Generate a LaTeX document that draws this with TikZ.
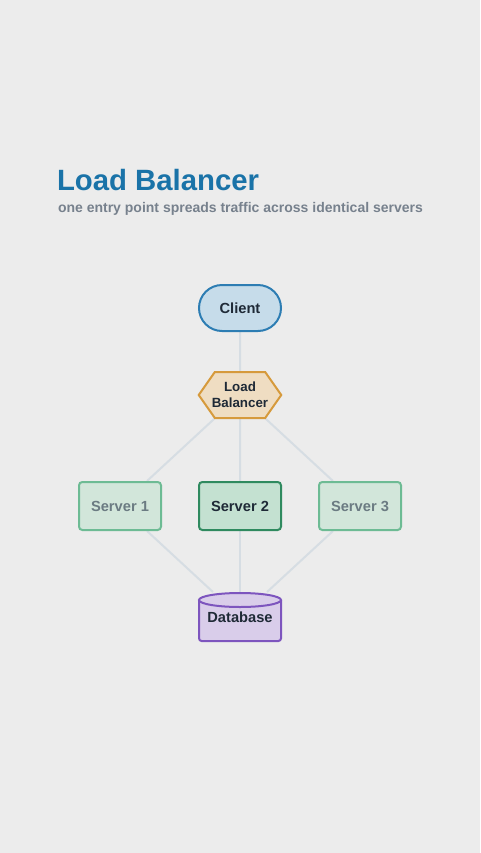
\documentclass[tikz,border=0pt]{standalone}
\usepackage{fontspec}
\setmainfont{Liberation Sans}
\usepackage{tikz}
\usetikzlibrary{arrows.meta,calc,positioning,shapes.geometric,shapes.misc,shapes.symbols}
\pgfdeclarelayer{paper}
\pgfdeclarelayer{edges}
\pgfsetlayers{paper,edges,main}
\definecolor{PaperBg}{HTML}{ECECEC}
\definecolor{TitleBlue}{HTML}{1A73A8}
\definecolor{Muted}{HTML}{77818D}
\definecolor{Ink}{HTML}{1F2A37}
\definecolor{EdgeGrey}{HTML}{D6DDE3}
\definecolor{ClientFill}{HTML}{C6DCEA}
\definecolor{ClientLine}{HTML}{2D7DB3}
\definecolor{LbFill}{HTML}{EFDDC2}
\definecolor{LbLine}{HTML}{D69A3C}
\definecolor{SrvFill}{HTML}{C4E1D1}
\definecolor{SrvLine}{HTML}{2F8A5F}
\definecolor{SrvDim}{HTML}{D2E6DA}
\definecolor{SrvDimLine}{HTML}{6DBB94}
\definecolor{SrvDimText}{HTML}{6B7B82}
\definecolor{DbFill}{HTML}{D9CDEA}
\definecolor{DbLine}{HTML}{7D55BE}

\begin{document}
\begin{tikzpicture}[x=0.75pt, y=-0.75pt,
    every node/.style={font=\bfseries\fontsize{11pt}{12pt}\selectfont, text=Ink, line width=1.5pt, inner sep=0pt},
    client/.style={rounded rectangle, draw=ClientLine, fill=ClientFill, minimum width=61.5pt, minimum height=34.5pt},
    balancer/.style={signal, signal to=east and west, signal pointer angle=110, draw=LbLine, fill=LbFill,
      inner xsep=-2.25pt, minimum height=34.5pt, align=center, font=\bfseries\fontsize{10pt}{12pt}\selectfont},
    server/.style={rectangle, rounded corners=2.5pt, draw=SrvLine, fill=SrvFill, minimum width=61.5pt, minimum height=36pt},
    dimserver/.style={server, draw=SrvDimLine, fill=SrvDim, text=SrvDimText},
    store/.style={rectangle, minimum width=61.5pt, minimum height=36pt},
    link/.style={EdgeGrey, line width=1.5pt}]
    \begin{pgfonlayer}{paper}
      \fill[PaperBg] (0,0) rectangle (480,853);
    \end{pgfonlayer}
    \useasboundingbox (0,0) rectangle (480,853);
    \node[anchor=base west, text=TitleBlue, font=\bfseries\fontsize{22pt}{26pt}\selectfont] (title) at (56,190) {Load Balancer};
    \node[anchor=base west, text=Muted, font=\bfseries\fontsize{10.5pt}{12pt}\selectfont] (subtitle) at (57,212) {one entry point spreads traffic across identical servers};
    \node[client] (client) at (240,308) {Client};
    \node[balancer] (lb) at (240,395) {Load\\Balancer};
    \node[dimserver] (s1) at (120,506) {Server 1};
    \node[server] (s2) at (240,506) {Server 2};
    \node[dimserver] (s3) at (360,506) {Server 3};
    % database drum
    \fill[DbFill] (199,600) rectangle (281,641);
    \draw[DbLine, line width=1.5pt, rounded corners=2pt] (199,600) -- (199,641) -- (281,641) -- (281,600);
    \draw[DbLine, fill=DbFill, line width=1.5pt] (240,600) ellipse [x radius=30.75pt, y radius=5.25pt];
    \node[store] (db) at (240,617) {Database};
    \begin{pgfonlayer}{edges}
      \draw[link] (client) -- (lb);
      \foreach \x in {s1,s2,s3}{
        \draw[link] (lb) -- (\x);
        \draw[link] (\x) -- (db);
      }
    \end{pgfonlayer}
  \end{tikzpicture}
\end{document}
